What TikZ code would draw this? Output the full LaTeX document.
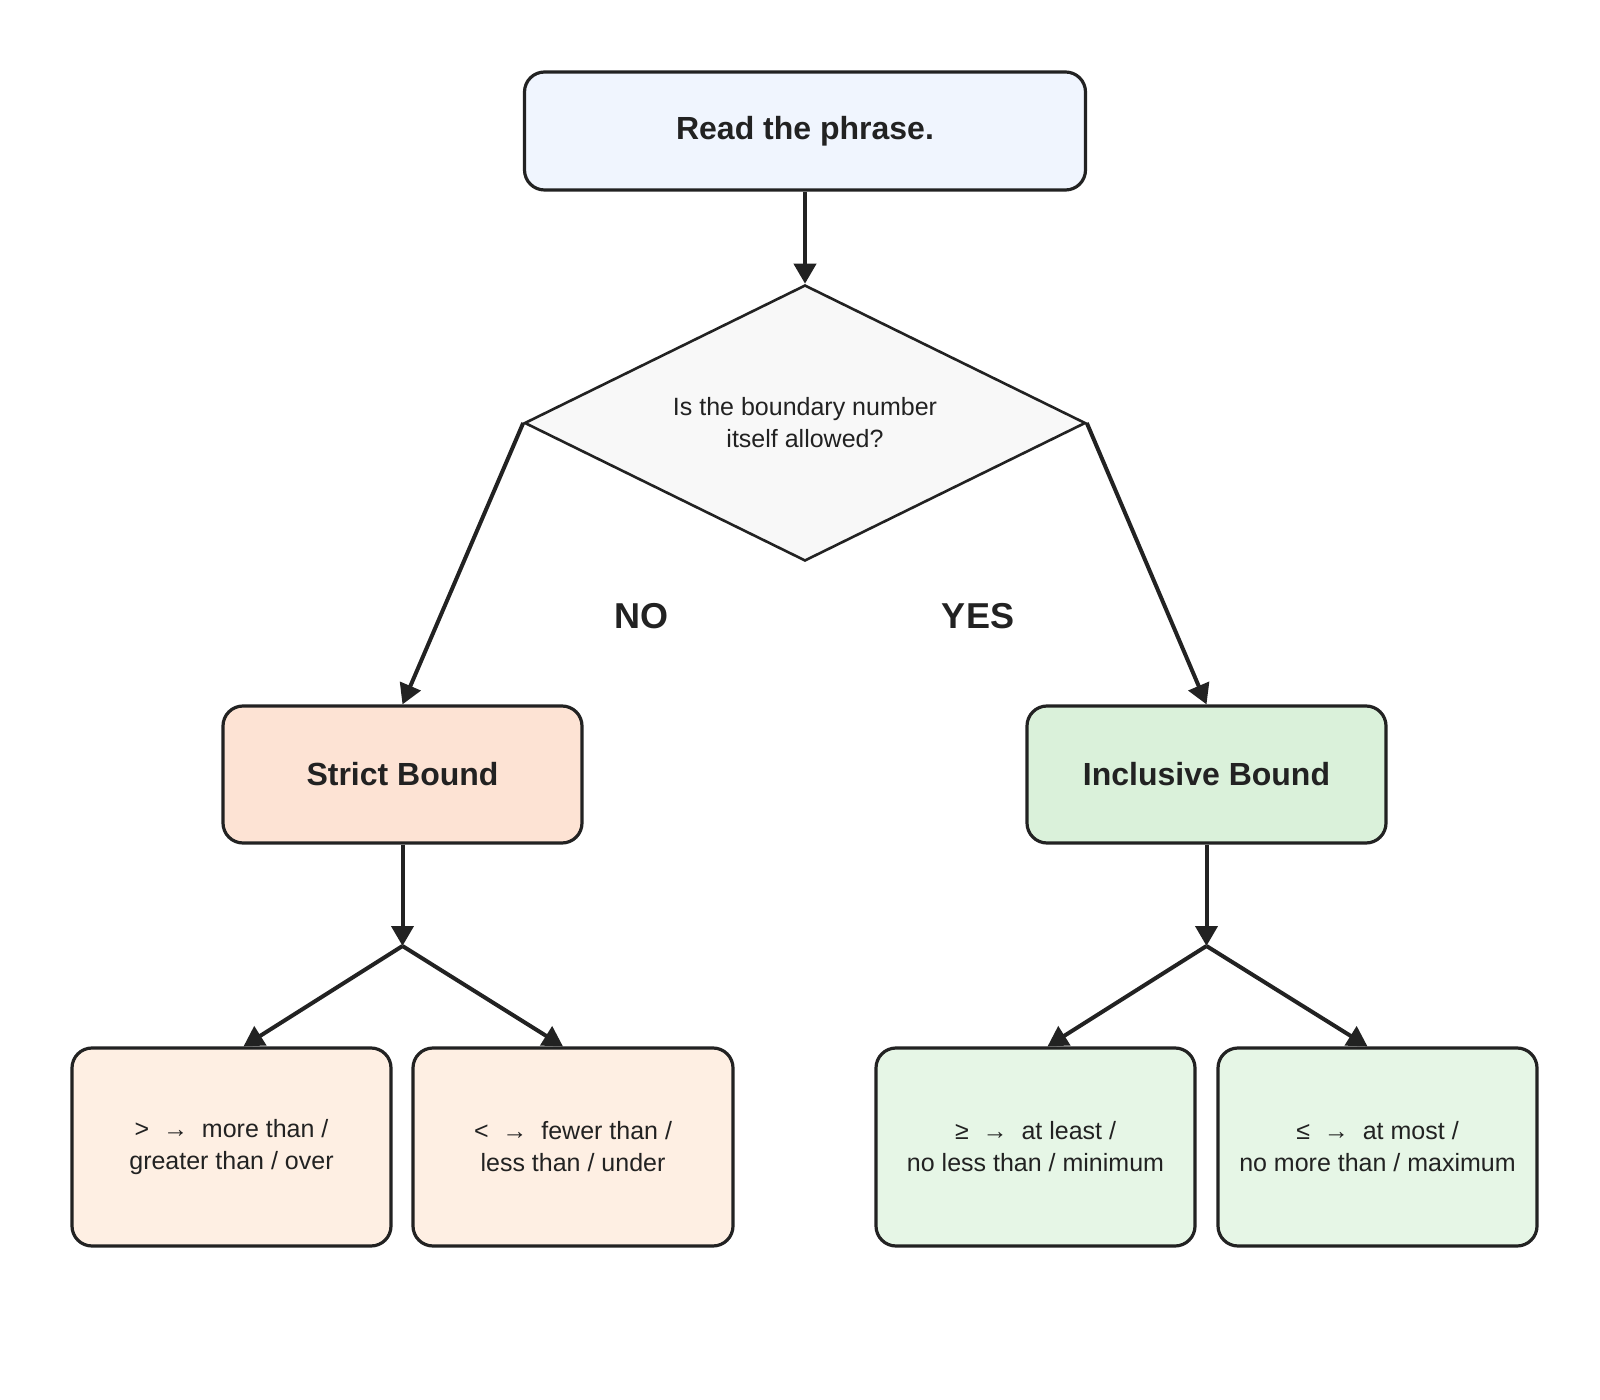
\documentclass[tikz,border=0pt]{standalone}
\usepackage{fontspec}
\setmainfont{Liberation Sans}
\usetikzlibrary{shapes.geometric,arrows.meta}
\definecolor{ln}{HTML}{222222}
\definecolor{ctop}{HTML}{F0F5FE}
\definecolor{cdia}{HTML}{F8F8F8}
\definecolor{cstr}{HTML}{FDE3D4}
\definecolor{cinc}{HTML}{DAF1DA}
\definecolor{cbl}{HTML}{FEEFE3}
\definecolor{cbr}{HTML}{E6F6E6}
\tikzset{
 box/.style={draw=ln,line width=1.6pt,rounded corners=10pt,inner sep=0pt,align=center,text=ln},
 big/.style={font=\fontsize{16}{19}\selectfont\bfseries},
 small/.style={font=\fontsize{12.5}{16}\selectfont},
 arr/.style={draw=ln,line width=2pt,-{Triangle[length=10pt,width=11pt]}},
 ln/.style={draw=ln,line width=2pt}
}
\begin{document}
\begin{tikzpicture}[x=0.5pt,y=-0.5pt]
\useasboundingbox (0,0) rectangle (1600,1400);
\node[box,big,fill=ctop,minimum width=280.5pt,minimum height=59pt] (top) at (805,131) {Read the phrase.};
\node[draw=ln,line width=1.3pt,fill=cdia,diamond,aspect=2.03,minimum width=280.5pt,minimum height=138pt,inner sep=0pt,small,align=center,text=ln] (dia) at (805,423) {Is the boundary number\\itself allowed?};
\node[box,big,fill=cstr,minimum width=179.5pt,minimum height=68.5pt] (str) at (402.5,774.5) {Strict Bound};
\node[box,big,fill=cinc,minimum width=179.5pt,minimum height=68.5pt] (inc) at (1206.5,774.5) {Inclusive Bound};
\node[box,small,fill=cbl,minimum width=159.5pt,minimum height=99pt] (b1) at (231.5,1147) {>\ \ →\ \ more than /\\greater than / over};
\node[box,small,fill=cbl,minimum width=160pt,minimum height=99pt] (b2) at (573,1147) {<\ \ →\ \ fewer than /\\less than / under};
\node[box,small,fill=cbr,minimum width=159.5pt,minimum height=99pt] (b3) at (1035.5,1147) {≥\ \ →\ \ at least /\\no less than / minimum};
\node[box,small,fill=cbr,minimum width=159.5pt,minimum height=99pt] (b4) at (1377.5,1147) {≤\ \ →\ \ at most /\\no more than / maximum};
\coordinate (sj) at (402.5,946);
\coordinate (ij) at (1206.5,946);
\node[big,font=\fontsize{18}{20}\selectfont\bfseries,text=ln] (no) at (641,616) {NO};
\node[big,font=\fontsize{18}{20}\selectfont\bfseries,text=ln] (yes) at (978,616) {YES};
\draw[arr] (top) -- (dia.north);
\draw[arr] (dia.west) -- (str.north);
\draw[arr] (dia.east) -- (inc.north);
\draw[arr] (str) -- (sj);
\draw[arr] (inc) -- (ij);
\draw[arr] (sj) -- ([xshift=6pt]b1.north);
\draw[arr] (sj) -- ([xshift=-5pt]b2.north);
\draw[arr] (ij) -- ([xshift=6pt]b3.north);
\draw[arr] (ij) -- ([xshift=-5pt]b4.north);
\end{tikzpicture}
\end{document}
